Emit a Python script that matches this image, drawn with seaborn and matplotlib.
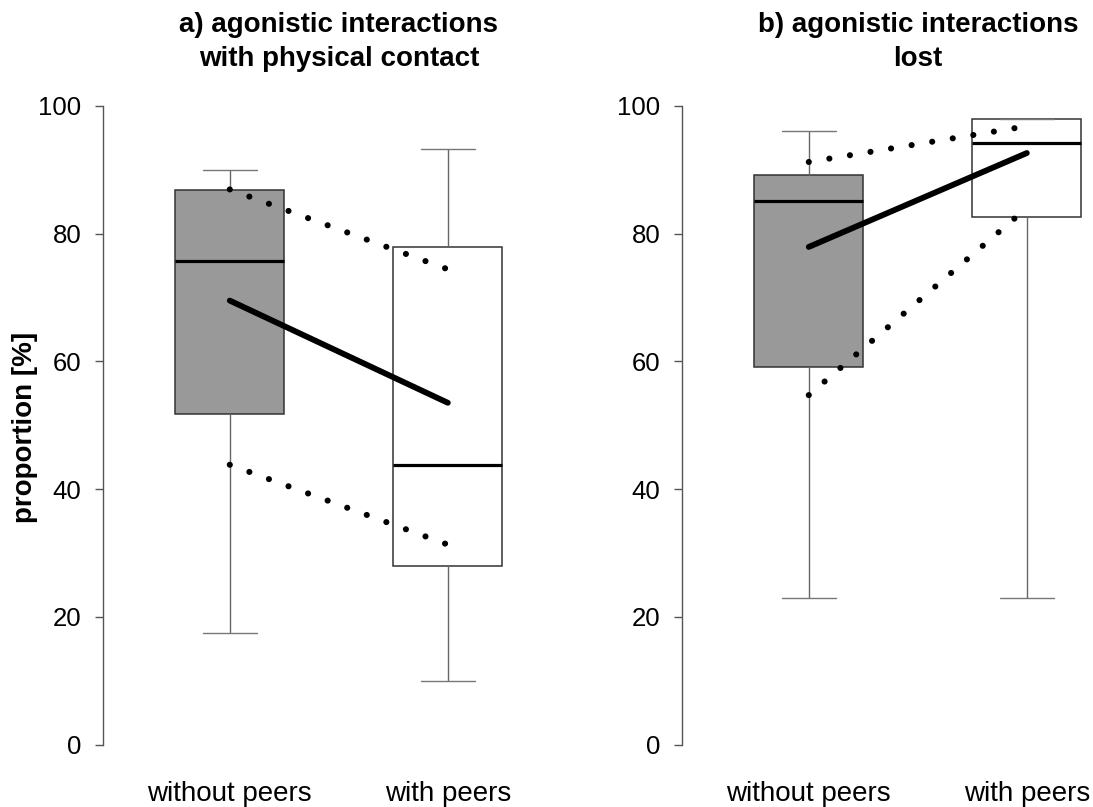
import numpy as np
import pandas as pd
import matplotlib
matplotlib.use("Agg")
import matplotlib.pyplot as plt
import seaborn as sns

sns.set_style("ticks")
plt.rcParams['font.family'] = ['Liberation Sans', 'DejaVu Sans']
plt.rcParams['text.color'] = 'black'

groups = ["without peers", "with peers"]

# five-number summaries: min, Q1, median, Q3, max
contact_without = [17.4, 51.7, 75.7, 86.8, 90.0]
contact_with = [10.0, 27.9, 43.7, 77.9, 93.3]
lost_without = [22.9, 59.1, 85.1, 89.2, 96.0]
lost_with = [22.9, 82.6, 94.2, 97.9, 97.9]

# thick line (means) and dotted lines (upper / lower bounds)
contact_mean = [69.5, 53.5]
contact_upper = [86.9, 74.4]
contact_lower = [43.8, 31.3]
lost_mean = [77.9, 92.6]
lost_upper = [91.2, 96.8]
lost_lower = [54.7, 84.0]

titles = ["a) agonistic interactions\nwith physical contact",
          "b) agonistic interactions\nlost"]
box_colors = {"without peers": "#999999", "with peers": "white"}

W, H = 1093, 807
fig = plt.figure(figsize=(W / 100, H / 100), dpi=100)
ax_bottom = (H - 770.1) / H
ax_height = 689.9 / H
ax_width = 471 / W
ax1 = fig.add_axes([103.3 / W, ax_bottom, ax_width, ax_height])
ax2 = fig.add_axes([682.3 / W, ax_bottom, ax_width, ax_height])


def draw_panel(ax, vals_without, vals_with, mean, upper, lower, title):
    df = pd.DataFrame({"group": np.repeat(groups, 5),
                       "value": vals_without + vals_with})
    sns.boxplot(data=df, x="group", y="value", hue="group", order=groups,
                hue_order=groups, palette=box_colors, saturation=1, width=0.5,
                whis=(0, 100), linecolor="#333333", linewidth=1.1,
                showfliers=False, legend=False, ax=ax,
                medianprops=dict(color="black", linewidth=2.3),
                whiskerprops=dict(color="#666666", linewidth=1.0),
                capprops=dict(color="#777777", linewidth=1.0))

    # dotted bounds
    for vals in (upper, lower):
        sns.pointplot(x=groups, y=vals, order=groups, color="black",
                      errorbar=None, ax=ax, marker="",
                      linestyle=(0, (0.01, 3.4)), linewidth=4.4,
                      dash_capstyle="round")
    # mean line
    sns.pointplot(x=groups, y=mean, order=groups, color="black",
                  errorbar=None, ax=ax, marker="", linestyle="-",
                  linewidth=4.2, solid_capstyle="round")

    ax.set_xlim(-0.58, 1.58)
    ax.set_ylim(-4, 104)
    ax.set_yticks([0, 20, 40, 60, 80, 100])
    sns.despine(ax=ax, bottom=True)
    ax.spines["left"].set_bounds(0, 100)
    ax.spines["left"].set_color("#555555")
    ax.spines["left"].set_linewidth(1.0)
    ax.tick_params(axis="y", length=5.8, width=1, color="#555555", pad=10,
                   labelsize=18.5, labelcolor="black", direction="out")
    ax.tick_params(axis="x", length=0, pad=8, labelsize=20, labelcolor="black")
    ax.set_xlabel("")
    ax.set_ylabel("")
    ax.set_title(title, fontsize=20, fontweight="bold", pad=10,
                 linespacing=1.42, color="black")


draw_panel(ax1, contact_without, contact_with, contact_mean, contact_upper,
           contact_lower, titles[0])
draw_panel(ax2, lost_without, lost_with, lost_mean, lost_upper,
           lost_lower, titles[1])

fig.text(25 / W, 1 - 427 / H, "proportion [%]", rotation=90, ha="center",
         va="center", fontsize=20, fontweight="bold", color="black")

fig.savefig("out.png", dpi=100, facecolor="white")
